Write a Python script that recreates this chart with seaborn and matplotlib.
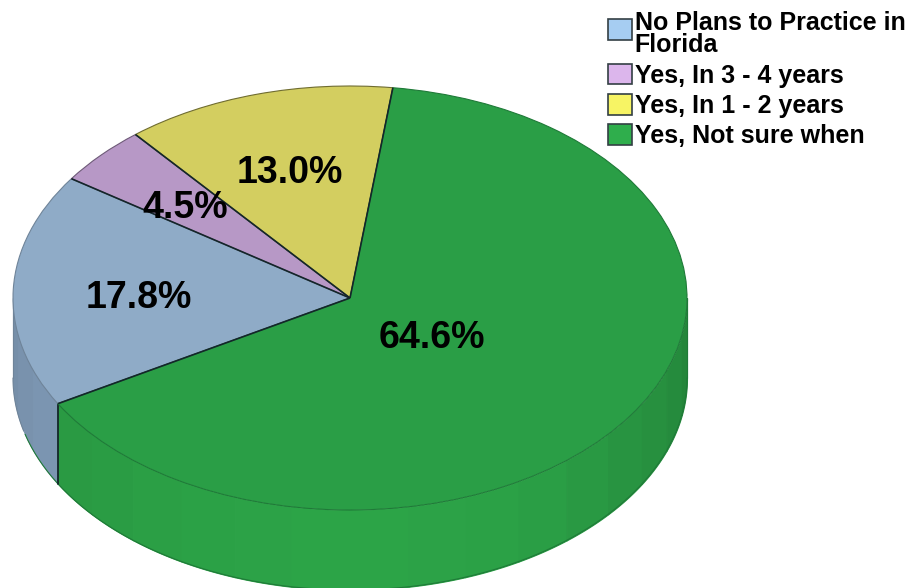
import numpy as np
import seaborn as sns
import matplotlib.pyplot as plt
from matplotlib.patches import Patch

# values as printed on the slices, clockwise from the blue slice
categories = ["No Plans to Practice in\nFlorida", "Yes, In 3 - 4 years",
              "Yes, In 1 - 2 years", "Yes, Not sure when"]
shares = [17.8, 4.5, 13.0, 64.6]

top_colors = ["#8fabc7", "#b798c6", "#d3ce60", "#2a9e46"]
rim_colors = ["#6f8499", "#6e5a78", "#6f6c30", "#1f7a38"]
legend_colors = ["#a6cdf2", "#dcb6ec", "#f7f464", "#2fae4c"]
outline = "#14262a"

# shade of the side wall, left to right, every 10 degrees
wall_shades = [0.93, 0.95, 0.97, 0.99, 1.0, 1.02, 1.03, 1.04, 1.05,
               1.05, 1.04, 1.03, 1.01, 0.98, 0.95, 0.92, 0.89, 0.86]

start_angle = 209.9
center_px = (350, 298)
radius_px = (337, 212)
depth_px = 80
W, H = 913, 588

# label centres in pixels from the pie centre, same order as shares
label_px = [(-211, 0), (-165, 90), (-60, 125), (82, -40)]

sns.set_theme(style="white")
plt.rcParams["font.family"] = ["Liberation Sans", "DejaVu Sans"]


def wall_color(base, shade):
    """Returns the base colour scaled by the shade, kept in range"""
    return tuple(min(c * shade, 1) for c in sns.color_palette([base])[0])


def draw_wall(ax, depth):
    """Draws the visible front of the cylinder as shaded vertical bands"""
    seam = start_angle
    edges = np.arange(180, 361, 10)
    for a0, a1 in zip(edges[:-1], edges[1:]):
        shade = wall_shades[int((a0 - 180) // 10)]
        if a1 <= seam:
            pieces = [(a0, a1, "#7f9ab6")]
        elif a0 < seam:
            pieces = [(a0, seam, "#7f9ab6"), (seam, a1, "#2a9c44")]
        else:
            pieces = [(a0, a1, "#2a9c44")]
        for p0, p1, base in pieces:
            angle = np.radians(np.linspace(p0, p1, 20))
            x = np.cos(angle)
            y = np.sin(angle)
            ax.fill_between(x, y, y - depth, color=wall_color(base, shade),
                            lw=0.8, zorder=1)
    angle = np.radians(np.linspace(180, 360, 200))
    ax.plot(np.cos(angle[:17]), np.sin(angle[:17]) - depth, color="#6f8499",
            lw=0.8, zorder=1.5)
    ax.plot(np.cos(angle[17:]), np.sin(angle[17:]) - depth, color="#1f7a38",
            lw=0.8, zorder=1.5)
    ax.plot([-1, -1], [0, -depth], color="#6f8499", lw=0.8, zorder=1.5)
    ax.plot([1, 1], [0, -depth], color="#1f7a38", lw=0.8, zorder=1.5)
    a = np.radians(seam)
    ax.plot([np.cos(a)] * 2, [np.sin(a), np.sin(a) - depth], color=outline,
            lw=1.3, zorder=1.5)


def main():
    fig = plt.figure(figsize=(W / 100, H / 100), dpi=100)
    ax = fig.add_axes([0, 0, 1, 1])

    fractions = np.array(shares) / sum(shares)
    depth = depth_px / radius_px[1]
    draw_wall(ax, depth)

    wedges, _, autotexts = ax.pie(
        shares, colors=top_colors, startangle=start_angle, counterclock=False,
        autopct="%.1f%%", pctdistance=0.64,
        textprops={"fontsize": 27, "fontweight": "bold", "color": "black"},
        wedgeprops={"linewidth": 0.8, "zorder": 2})
    for wedge, rim in zip(wedges, rim_colors):
        wedge.set_edgecolor(rim)
    for text, share, (dx, dy) in zip(autotexts, shares, label_px):
        text.set_text(f"{share:.1f}%")
        text.set_position((dx / radius_px[0], dy / radius_px[1]))
        text.set_zorder(4)

    # dark lines between the slices
    bounds = start_angle - np.cumsum(np.r_[0, fractions[:-1]]) * 360
    for b in bounds:
        a = np.radians(b)
        ax.plot([0, np.cos(a)], [0, np.sin(a)], color=outline, lw=1.2,
                zorder=3, solid_capstyle="butt")

    ax.set_aspect("auto")
    ax.set_xlim(-center_px[0] / radius_px[0],
                (W - center_px[0]) / radius_px[0])
    ax.set_ylim(-(H - center_px[1]) / radius_px[1],
                center_px[1] / radius_px[1])
    ax.axis("off")

    handles = [Patch(facecolor=c, edgecolor="#333f44", linewidth=1.2)
               for c in legend_colors]
    legend = ax.legend(handles, categories, loc="upper left",
                       bbox_to_anchor=(608 / W, 1 - 11 / H), frameon=False,
                       borderpad=0, borderaxespad=0,
                       handlelength=0.96, handleheight=0.9,
                       handletextpad=0.1, labelspacing=0.25,
                       labelcolor="black",
                       prop={"size": 18, "weight": "bold"})
    for text in legend.get_texts():
        text.set_linespacing(0.92)
    # first swatch sits level with the first line rather than the two-line mid
    first = legend.legend_handles[0]
    first.set_y(first.get_y() + 4.3)

    fig.savefig("out.png", dpi=100)
    plt.close(fig)


main()
